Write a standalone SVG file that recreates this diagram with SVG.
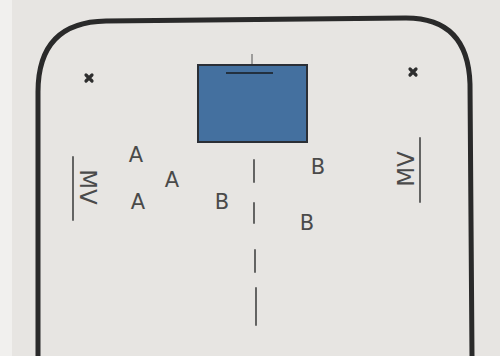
<svg xmlns="http://www.w3.org/2000/svg" width="500" height="356" viewBox="0 0 500 356">
<style>
.lbl{font-family:"DejaVu Sans","Liberation Sans",sans-serif;font-size:21px;fill:#4a4a4a;text-anchor:middle;dominant-baseline:central}
.mv{font-family:"DejaVu Sans","Liberation Sans",sans-serif;font-size:23px;fill:#4a4a4a;text-anchor:middle;dominant-baseline:central}
.thin{stroke:#555;stroke-width:1.8;fill:none;stroke-linecap:round}
.x{stroke:#2e2e2e;stroke-width:3.2;stroke-linecap:round;fill:none}
</style>
<rect x="0" y="0" width="500" height="356" fill="#e7e5e2"/>
<rect x="0" y="0" width="12" height="356" fill="#f1f0ee"/>
<g id="frame">
<path d="M38,356 L38,92 Q38,22 106,21 L406,18 Q468,18 470,84 L472,356" fill="none" stroke="#2a2a2a" stroke-width="5"/>
</g>
<g id="box">
<line x1="252" y1="54" x2="252" y2="65" stroke="#555" stroke-width="1"/>
<rect x="198" y="65" width="109" height="77" fill="#44709f" stroke="#2b2f36" stroke-width="2"/>
<line x1="226" y1="73" x2="273" y2="73" stroke="#22303f" stroke-width="2"/>
</g>
<g id="marks">
<path class="x" d="M86,75 L92,81 M92,75 L86,81"/>
<path class="x" d="M410,69 L416,75 M416,69 L410,75"/>
</g>
<g id="mv-left">
<line class="thin" x1="73" y1="157" x2="73" y2="220"/>
<text class="mv" transform="translate(88,187) rotate(90)">MV</text>
</g>
<g id="mv-right">
<line class="thin" x1="420" y1="138" x2="420" y2="202"/>
<text class="mv" transform="translate(406,169) rotate(-90)">MV</text>
</g>
<g id="labels">
<text class="lbl" x="136" y="155">A</text>
<text class="lbl" x="172" y="180">A</text>
<text class="lbl" x="138" y="202">A</text>
<text class="lbl" x="222" y="202">B</text>
<text class="lbl" x="318" y="167">B</text>
<text class="lbl" x="307" y="223">B</text>
</g>
<g id="connectors">
<line class="thin" x1="254" y1="160" x2="254" y2="182"/>
<line class="thin" x1="254" y1="203" x2="254" y2="223"/>
<line class="thin" x1="255" y1="250" x2="255" y2="272"/>
<line class="thin" x1="256" y1="288" x2="256" y2="325"/>
</g>
</svg>
